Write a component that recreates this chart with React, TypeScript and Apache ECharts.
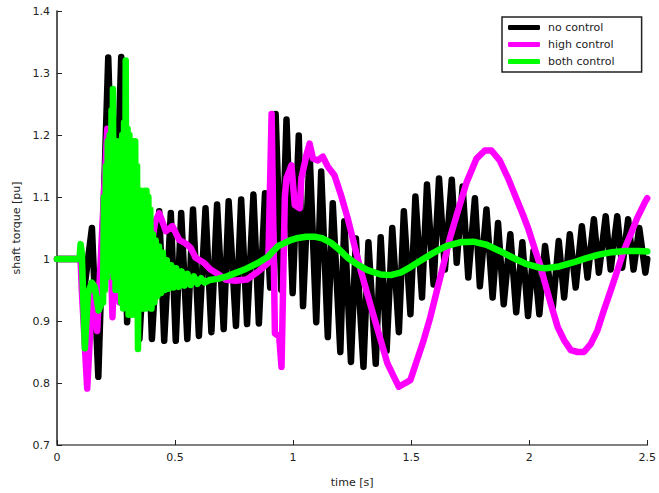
import React, { useEffect, useRef } from "react";
import * as echarts from "echarts";

const FONT = "DejaVu Sans, Liberation Sans, sans-serif";

const seriesNames = ["no control", "high control", "both control"];
const seriesColors = ["#000000", "#ff00ff", "#00ff00"];
const xTickLabels = ["0", "0.5", "1", "1.5", "2", "2.5"];
const yTickLabels = ["0.7", "0.8", "0.9", "1", "1.1", "1.2", "1.3", "1.4"];

// no control (black)
const noControlTime = [
  0, 0.1, 0.115, 0.148, 0.175, 0.217, 0.244, 0.272, 0.297, 0.324, 0.349, 0.382, 0.402, 0.433,
  0.454, 0.482, 0.503, 0.526, 0.552, 0.576, 0.601, 0.629, 0.654, 0.678, 0.706, 0.727, 0.758,
  0.78, 0.805, 0.832, 0.855, 0.881, 0.903, 0.926, 0.95, 0.972, 0.998, 1.024, 1.042, 1.07,
  1.098, 1.119, 1.147, 1.168, 1.2, 1.217, 1.245, 1.266, 1.298, 1.319, 1.35, 1.371, 1.396,
  1.42, 1.448, 1.469, 1.497, 1.518, 1.546, 1.567, 1.595, 1.618, 1.643, 1.672, 1.693, 1.718,
  1.742, 1.77, 1.791, 1.819, 1.845, 1.868, 1.892, 1.92, 1.945, 1.971, 1.995, 2.018, 2.043,
  2.067, 2.1, 2.125, 2.148, 2.172, 2.197, 2.223, 2.247, 2.274, 2.295, 2.324, 2.345, 2.373,
  2.394, 2.419, 2.442, 2.466, 2.492, 2.5,
];
const noControlValue = [
  1.0, 1.0, 0.95, 1.05, 0.81, 1.325, 0.98, 1.326, 0.898, 1.18, 0.871, 1.09, 0.871, 1.077,
  0.868, 1.074, 0.868, 1.074, 0.871, 1.08, 0.876, 1.082, 0.882, 1.088, 0.887, 1.093, 0.892,
  1.096, 0.895, 1.104, 0.896, 1.106, 0.954, 1.234, 0.95, 1.225, 0.945, 1.199, 0.924, 1.17,
  0.898, 1.141, 0.874, 1.09, 0.85, 1.061, 0.834, 1.033, 0.826, 1.027, 0.831, 1.035, 0.852,
  1.05, 0.882, 1.077, 0.911, 1.101, 0.938, 1.12, 0.959, 1.13, 0.983, 1.128, 0.994, 1.117,
  0.97, 1.098, 0.956, 1.08, 0.938, 1.058, 0.927, 1.04, 0.914, 1.027, 0.908, 1.013, 0.911,
  1.021, 0.922, 1.029, 0.938, 1.04, 0.954, 1.053, 0.97, 1.064, 0.978, 1.069, 0.983, 1.069,
  0.986, 1.064, 0.983, 1.05, 0.978, 1.0,
];

// high control (magenta)
const highControlTime = [
  0, 0.1, 0.105, 0.128, 0.151, 0.17, 0.213, 0.235, 0.25, 0.265, 0.29, 0.33, 0.37, 0.391,
  0.416, 0.433, 0.461, 0.489, 0.517, 0.545, 0.566, 0.587, 0.622, 0.65, 0.685, 0.713, 0.755,
  0.804, 0.853, 0.895, 0.909, 0.923, 0.941, 0.951, 0.965, 0.972, 0.993, 1.007, 1.028, 1.035,
  1.056, 1.07, 1.084, 1.105, 1.126, 1.147, 1.175, 1.203, 1.231, 1.259, 1.287, 1.315, 1.343,
  1.371, 1.399, 1.427, 1.448, 1.476, 1.497, 1.525, 1.553, 1.581, 1.609, 1.637, 1.665, 1.693,
  1.735, 1.777, 1.812, 1.84, 1.875, 1.911, 1.945, 1.974, 1.995, 2.022, 2.05, 2.064, 2.092,
  2.121, 2.148, 2.176, 2.205, 2.232, 2.261, 2.289, 2.316, 2.345, 2.373, 2.4, 2.429, 2.457,
  2.492, 2.5,
];
const highControlValue = [
  1.0, 1.0, 0.95, 0.791, 0.96, 0.884, 1.21, 0.906, 1.11, 0.93, 0.95, 1.0, 1.03, 1.0,
  1.06, 1.074, 1.045, 1.053, 1.031, 1.025, 1.018, 1.002, 0.994, 0.983, 0.975, 0.967, 0.965,
  0.967, 0.98, 0.994, 1.234, 0.88, 0.875, 0.826, 1.1, 1.13, 1.151, 1.087, 1.082, 1.13,
  1.167, 1.186, 1.162, 1.159, 1.165, 1.149, 1.135, 1.103, 1.066, 1.023, 0.981, 0.943, 0.906,
  0.869, 0.832, 0.81, 0.794, 0.8, 0.805, 0.837, 0.869, 0.906, 0.949, 0.991, 1.035, 1.071,
  1.124, 1.162, 1.175, 1.175, 1.159, 1.13, 1.098, 1.071, 1.05, 1.018, 0.986, 0.965, 0.927,
  0.89, 0.869, 0.853, 0.85, 0.85, 0.863, 0.885, 0.917, 0.949, 0.981, 1.013, 1.039, 1.066,
  1.093, 1.098,
];

// both control (green)
const bothControlTime = [
  0, 0.095, 0.1, 0.105, 0.118, 0.131, 0.147, 0.16, 0.176, 0.19,
  0.195, 0.199, 0.203, 0.207, 0.211, 0.215, 0.219, 0.223, 0.227, 0.231, 0.234, 0.237, 0.24,
  0.244, 0.248, 0.252, 0.256, 0.26, 0.264, 0.268, 0.272, 0.276, 0.28, 0.284, 0.288, 0.291,
  0.295, 0.299, 0.303, 0.307, 0.311, 0.315, 0.319, 0.323, 0.327, 0.331, 0.335, 0.339, 0.343,
  0.347, 0.351, 0.355, 0.359, 0.363, 0.367, 0.371, 0.375, 0.379, 0.383, 0.387, 0.391, 0.395,
  0.4, 0.406, 0.412, 0.418, 0.425, 0.432, 0.44, 0.448, 0.456, 0.465, 0.474, 0.484, 0.494,
  0.505, 0.516, 0.528, 0.54, 0.553, 0.566, 0.58, 0.595, 0.61, 0.625, 0.645,
  0.68, 0.72, 0.76, 0.8, 0.853, 0.895, 0.916, 0.937, 0.965, 0.993, 1.021, 1.056, 1.091, 1.126,
  1.161, 1.196, 1.231, 1.273, 1.315, 1.371, 1.413, 1.455, 1.497, 1.539, 1.581, 1.623, 1.651,
  1.707, 1.763, 1.819, 1.875, 1.931, 1.987, 2.043, 2.071, 2.127, 2.183, 2.239, 2.295, 2.351,
  2.408, 2.464, 2.5,
];
const bothControlValue = [
  1.0, 1.0, 1.024, 1.01, 0.856, 0.944, 0.962, 0.955, 0.917, 0.93,
  0.93, 1.1, 0.95, 1.15, 0.97, 1.19, 0.98, 1.2, 1.0, 1.24, 1.02, 1.274, 0.97,
  1.18, 0.95, 1.19, 0.96, 1.17, 0.95, 1.19, 0.93, 1.2, 0.92, 1.22, 0.93, 1.32,
  0.92, 1.21, 0.91, 1.2, 0.92, 1.19, 0.91, 1.19, 0.93, 1.19, 0.95, 1.15, 0.855,
  1.1, 0.93, 1.11, 0.92, 1.1, 0.93, 1.11, 0.92, 1.11, 0.94, 1.1, 0.93, 1.08,
  0.92, 1.04, 0.93, 1.03, 0.94, 1.02, 0.945, 1.01, 0.95, 0.998, 0.952, 0.99, 0.954,
  0.985, 0.955, 0.98, 0.957, 0.976, 0.958, 0.972, 0.96, 0.969, 0.962, 0.966,
  0.968, 0.972, 0.978, 0.984, 0.994, 1.004, 1.013, 1.021, 1.026, 1.031, 1.034, 1.036, 1.036, 1.033,
  1.026, 1.015, 1.002, 0.991, 0.982, 0.975, 0.974, 0.978, 0.987, 0.997, 1.007, 1.016, 1.021,
  1.027, 1.028, 1.023, 1.013, 1.002, 0.992, 0.986, 0.985, 0.988, 0.994, 1.001, 1.007, 1.011,
  1.013, 1.013, 1.012,
];

const zip = (t: number[], v: number[]) => t.map((x, i) => [x, v[i]]);

export default function App() {
  const ref = useRef<HTMLDivElement>(null);
  useEffect(() => {
    if (!ref.current) return;
    const chart = echarts.init(ref.current, null, { renderer: "svg" });
    const datasets = [
      zip(noControlTime, noControlValue),
      zip(highControlTime, highControlValue),
      zip(bothControlTime, bothControlValue),
    ];
    const option = {
      animation: false,
      backgroundColor: "#ffffff",
      grid: { left: 57, right: 7, top: 11, bottom: 44, containLabel: false },
      legend: {
        orient: "vertical",
        left: 502,
        top: 17,
        itemWidth: 32,
        itemHeight: 5,
        itemGap: 4,
        padding: [4, 27, 4, 6],
        borderColor: "#222",
        borderWidth: 1.5,
        backgroundColor: "#ffffff",
        textStyle: { fontSize: 11, fontFamily: FONT, color: "#222", lineHeight: 13, padding: [0, 0, 0, 3] },
        data: seriesNames.map((n) => ({ name: n, icon: "roundRect" })),
      },
      xAxis: {
        type: "value",
        min: 0,
        max: 2.5,
        interval: 0.5,
        name: "time [s]",
        nameLocation: "middle",
        nameGap: 32,
        nameTextStyle: { fontSize: 11, fontFamily: FONT, color: "#222" },
        axisLine: { show: true, onZero: false, lineStyle: { color: "#808080", width: 2 } },
        axisTick: { show: true, inside: true, length: 5, lineStyle: { color: "#222", width: 1 } },
        axisLabel: {
          margin: 7,
          fontSize: 11,
          fontFamily: FONT,
          color: "#222",
          formatter: (v: number) => xTickLabels[Math.round(v / 0.5)] ?? String(v),
        },
        splitLine: { show: false },
      },
      yAxis: {
        type: "value",
        min: 0.7,
        max: 1.4,
        interval: 0.1,
        name: "shaft torque [pu]",
        nameLocation: "middle",
        nameGap: 34,
        nameTextStyle: { fontSize: 11, fontFamily: FONT, color: "#222" },
        axisLine: { show: true, onZero: false, lineStyle: { color: "#222", width: 1.5 } },
        axisTick: { show: true, inside: true, length: 5, lineStyle: { color: "#222", width: 1 } },
        axisLabel: {
          margin: 7,
          fontSize: 11,
          fontFamily: FONT,
          color: "#222",
          formatter: (v: number) => yTickLabels[Math.round((v - 0.7) / 0.1)] ?? String(v),
        },
        splitLine: { show: false },
      },
      series: seriesNames.map((n, i) => ({
        name: n,
        type: "line",
        data: datasets[i],
        showSymbol: false,
        symbol: "none",
        color: seriesColors[i],
        lineStyle: { color: seriesColors[i], width: 6.5, cap: "round", join: "round" },
        z: 2 + i,
      })),
    };
    chart.setOption(option as any);
    return () => chart.dispose();
  }, []);
  return (
    <div
      ref={ref}
      style={{ position: "fixed", left: 0, top: 0, width: 659, height: 493, background: "#fff" }}
    />
  );
}
